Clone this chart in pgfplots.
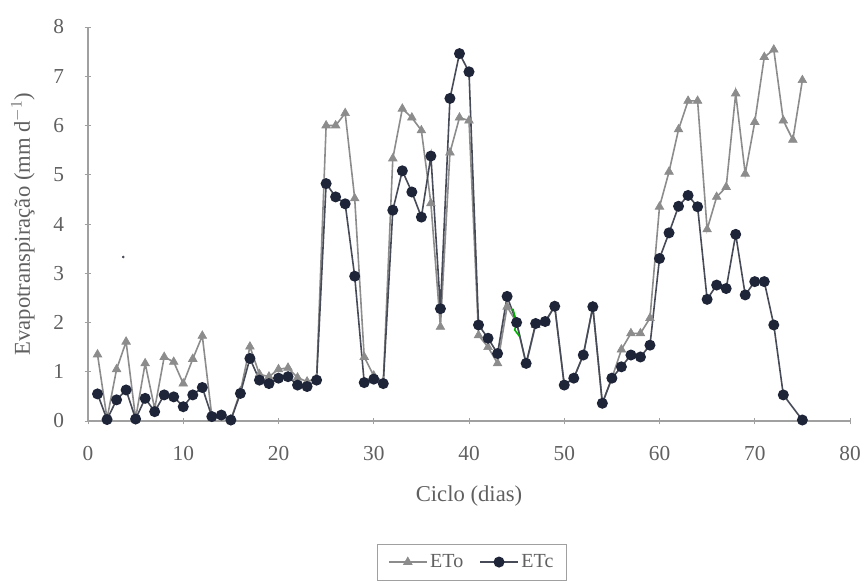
\documentclass[border=0pt]{standalone}
\usepackage{pgfplots}
\pgfplotsset{compat=1.18}
\usepackage{fontspec}
\setmainfont{Liberation Serif}
\definecolor{txt}{HTML}{606060}
\definecolor{axl}{HTML}{A0A0A0}
\definecolor{etoc}{HTML}{8C8C8C}
\definecolor{etcl}{HTML}{474B57}
\definecolor{etcm}{HTML}{1F2538}
\begin{document}
\begin{tikzpicture}
\path[use as bounding box] (0,0) rectangle (651pt,-438.75pt);
\begin{axis}[
  at={(66pt,-315.75pt)}, anchor=south west,
  scale only axis, width=571.5pt, height=295.5pt,
  xmin=0, xmax=80, ymin=0, ymax=8,
  axis x line=bottom, axis y line=left,
  axis line style={draw=axl, line width=0.8pt, -},
  xtick={0,10,...,80}, ytick={0,1,...,8},
  tick align=center, major tick length=5pt,
  tick style={draw=axl, line width=0.6pt},
  font=\fontsize{16}{19}\selectfont,
  tick label style={font=\fontsize{16}{19}\selectfont, text=txt},
  /pgf/number format/assume math mode=true,
  xticklabel style={yshift=-13pt},
  yticklabel style={xshift=-12pt},
  xlabel={Ciclo (dias)},
  ylabel={Evapotranspiração (mm d$^{-1}$)},
  label style={font=\fontsize{17}{20}\selectfont, text=txt},
  xlabel style={yshift=-12pt},
  ylabel style={yshift=7pt},
  legend style={at={(0.504,-0.358)}, anchor=center, legend columns=2,
    draw=axl, font=\fontsize{15}{18}\selectfont, text=txt,
    /tikz/every even column/.append style={column sep=10pt},
    inner xsep=8pt, inner ysep=6pt},
  legend image code/.code={\draw[mark repeat=2,mark phase=2] plot coordinates {(0cm,0cm)(0.5cm,0cm)(1.0cm,0cm)};},
  clip=false,
]
\addplot[color=etoc, line width=1.2pt, mark=triangle*, mark size=3.7pt,
  mark options={fill=etoc, draw=etoc, line width=0.5pt}] coordinates {
(1,1.35)(2,0.05)(3,1.05)(4,1.61)(5,0.05)(6,1.17)(7,0.25)(8,1.3)(9,1.2)(10,0.76)
(11,1.26)(12,1.73)(13,0.1)(14,0.12)(15,0.03)(16,0.6)(17,1.51)(18,0.95)(19,0.9)(20,1.05)
(21,1.08)(22,0.88)(23,0.8)(24,0.87)(25,6.0)(26,6.0)(27,6.25)(28,4.52)(29,1.3)(30,0.92)
(31,0.8)(32,5.33)(33,6.34)(34,6.16)(35,5.9)(36,4.42)(37,1.91)(38,5.45)(39,6.16)(40,6.1)
(41,1.74)(42,1.5)(43,1.17)(44,2.32)(45,2.0)(46,1.15)(47,1.95)(48,2.0)(49,2.33)(50,0.74)
(51,0.87)(52,1.34)(53,2.32)(54,0.36)(55,0.87)(56,1.45)(57,1.78)(58,1.78)(59,2.09)(60,4.35)
(61,5.06)(62,5.92)(63,6.5)(64,6.5)(65,3.89)(66,4.55)(67,4.75)(68,6.65)(69,5.02)(70,6.07)
(71,7.39)(72,7.54)(73,6.1)(74,5.71)(75,6.92)
};
\addlegendentry{ETo}
\addplot[color=etcl, line width=1.2pt, mark=*, mark size=3.5pt,
  mark options={fill=etcm, draw=etcm}] coordinates {
(1,0.55)(2,0.03)(3,0.43)(4,0.63)(5,0.04)(6,0.46)(7,0.19)(8,0.53)(9,0.49)(10,0.29)
(11,0.53)(12,0.68)(13,0.09)(14,0.12)(15,0.02)(16,0.56)(17,1.27)(18,0.83)(19,0.76)(20,0.87)
(21,0.9)(22,0.73)(23,0.7)(24,0.83)(25,4.82)(26,4.55)(27,4.41)(28,2.94)(29,0.78)(30,0.85)
(31,0.76)(32,4.28)(33,5.08)(34,4.65)(35,4.14)(36,5.38)(37,2.28)(38,6.55)(39,7.46)(40,7.09)
(41,1.95)(42,1.68)(43,1.37)(44,2.53)(45,2.0)(46,1.17)(47,1.98)(48,2.02)(49,2.33)(50,0.73)
(51,0.87)(52,1.34)(53,2.32)(54,0.36)(55,0.87)(56,1.1)(57,1.34)(58,1.3)(59,1.54)(60,3.3)
(61,3.82)(62,4.36)(63,4.58)(64,4.35)(65,2.47)(66,2.76)(67,2.69)(68,3.79)(69,2.56)(70,2.83)
(71,2.83)(72,1.95)(73,0.53)(75,0.02)
};
\addlegendentry{ETc}
\addplot[forget plot, color=green!70!black, line width=1.2pt, mark=none] coordinates {
(44.6,2.28)(45,2.0)(44.8,1.85)(45.3,1.72)};
\addplot[forget plot, only marks, mark=*, mark size=0.8pt, color=etcl] coordinates {(3.7,3.33)};
\end{axis}
\end{tikzpicture}
\end{document}
